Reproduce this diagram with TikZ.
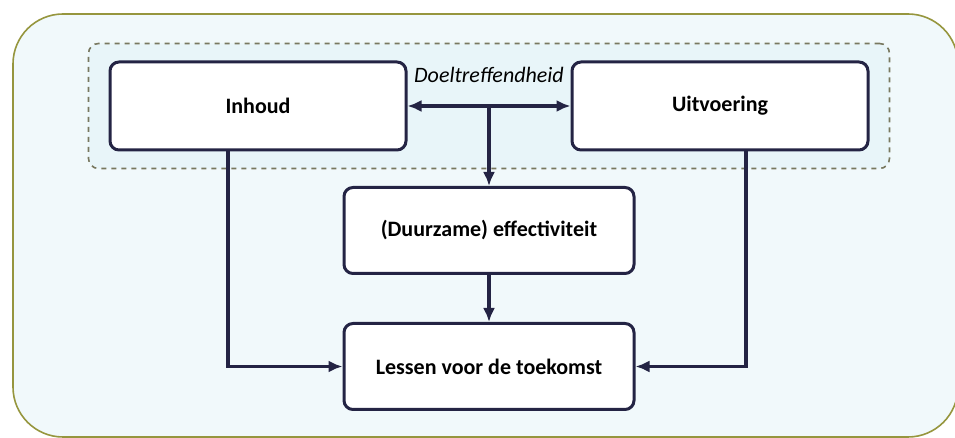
\documentclass[tikz,border=0pt]{standalone}
\usepackage{fontspec}
\setmainfont{Carlito}
\usetikzlibrary{positioning,arrows.meta,fit,calc}
\pgfdeclarelayer{background}
\pgfsetlayers{background,main}
\definecolor{navy}{RGB}{36,36,68}
\definecolor{olive}{RGB}{150,150,62}
\definecolor{dashgrey}{RGB}{120,120,95}
\definecolor{paleblue}{RGB}{241,249,251}
\definecolor{teamblue}{RGB}{232,245,249}

\begin{document}
\begin{tikzpicture}[x=0.5pt,y=-0.5pt,
					box/.style={draw=navy, line width=1.5pt, fill=white, rounded corners=4.5pt,
						font=\fontsize{11}{13}\selectfont\bfseries, text=black},
					wide/.style={box, minimum width=148pt, minimum height=44pt},
					small/.style={box, minimum width=145pt, minimum height=43pt},
					every fit/.style={draw=dashgrey, dash pattern=on 2.5pt off 2.5pt, line width=0.8pt,
						fill=teamblue, rounded corners=5pt, inner xsep=10pt, inner ysep=8.5pt},
					conn/.style={draw=navy, line width=1.6pt},
					>={Latex[length=7pt,width=6pt]}]
	\useasboundingbox (0,0) rectangle (955,438);
	\node[wide] (inhoud) at (258,106) {Inhoud};
	\node[wide] (uitv) at (720,106) {Uitvoering};
	\node[small] (eff) at (489,230.5) {(Duurzame) effectiviteit};
	\node[small] (lessen) at (489,366.5) {Lessen voor de toekomst};
	\coordinate (mid) at ($(inhoud.east)!0.5!(uitv.west)$);
	\node[font=\fontsize{11}{13}\selectfont\itshape, inner sep=1pt] (doel) at (489,75) {Doeltreffendheid};

	\draw[conn,<->] (inhoud) -- (uitv);
	\draw[conn,->] (mid) -- (eff);
	\draw[conn,->] (eff) -- (lessen);
	\draw[conn,->] ([xshift=-15pt]inhoud.south) |- (lessen);
	\draw[conn,->] ([xshift=13pt]uitv.south) |- (lessen);

	\begin{pgfonlayer}{background}
		\draw[olive, line width=0.8pt, fill=paleblue, rounded corners=25pt] (13,14) rectangle (958,437);
		\node[fit=(inhoud) (uitv)] (team) {};
	\end{pgfonlayer}
\end{tikzpicture}
\end{document}
